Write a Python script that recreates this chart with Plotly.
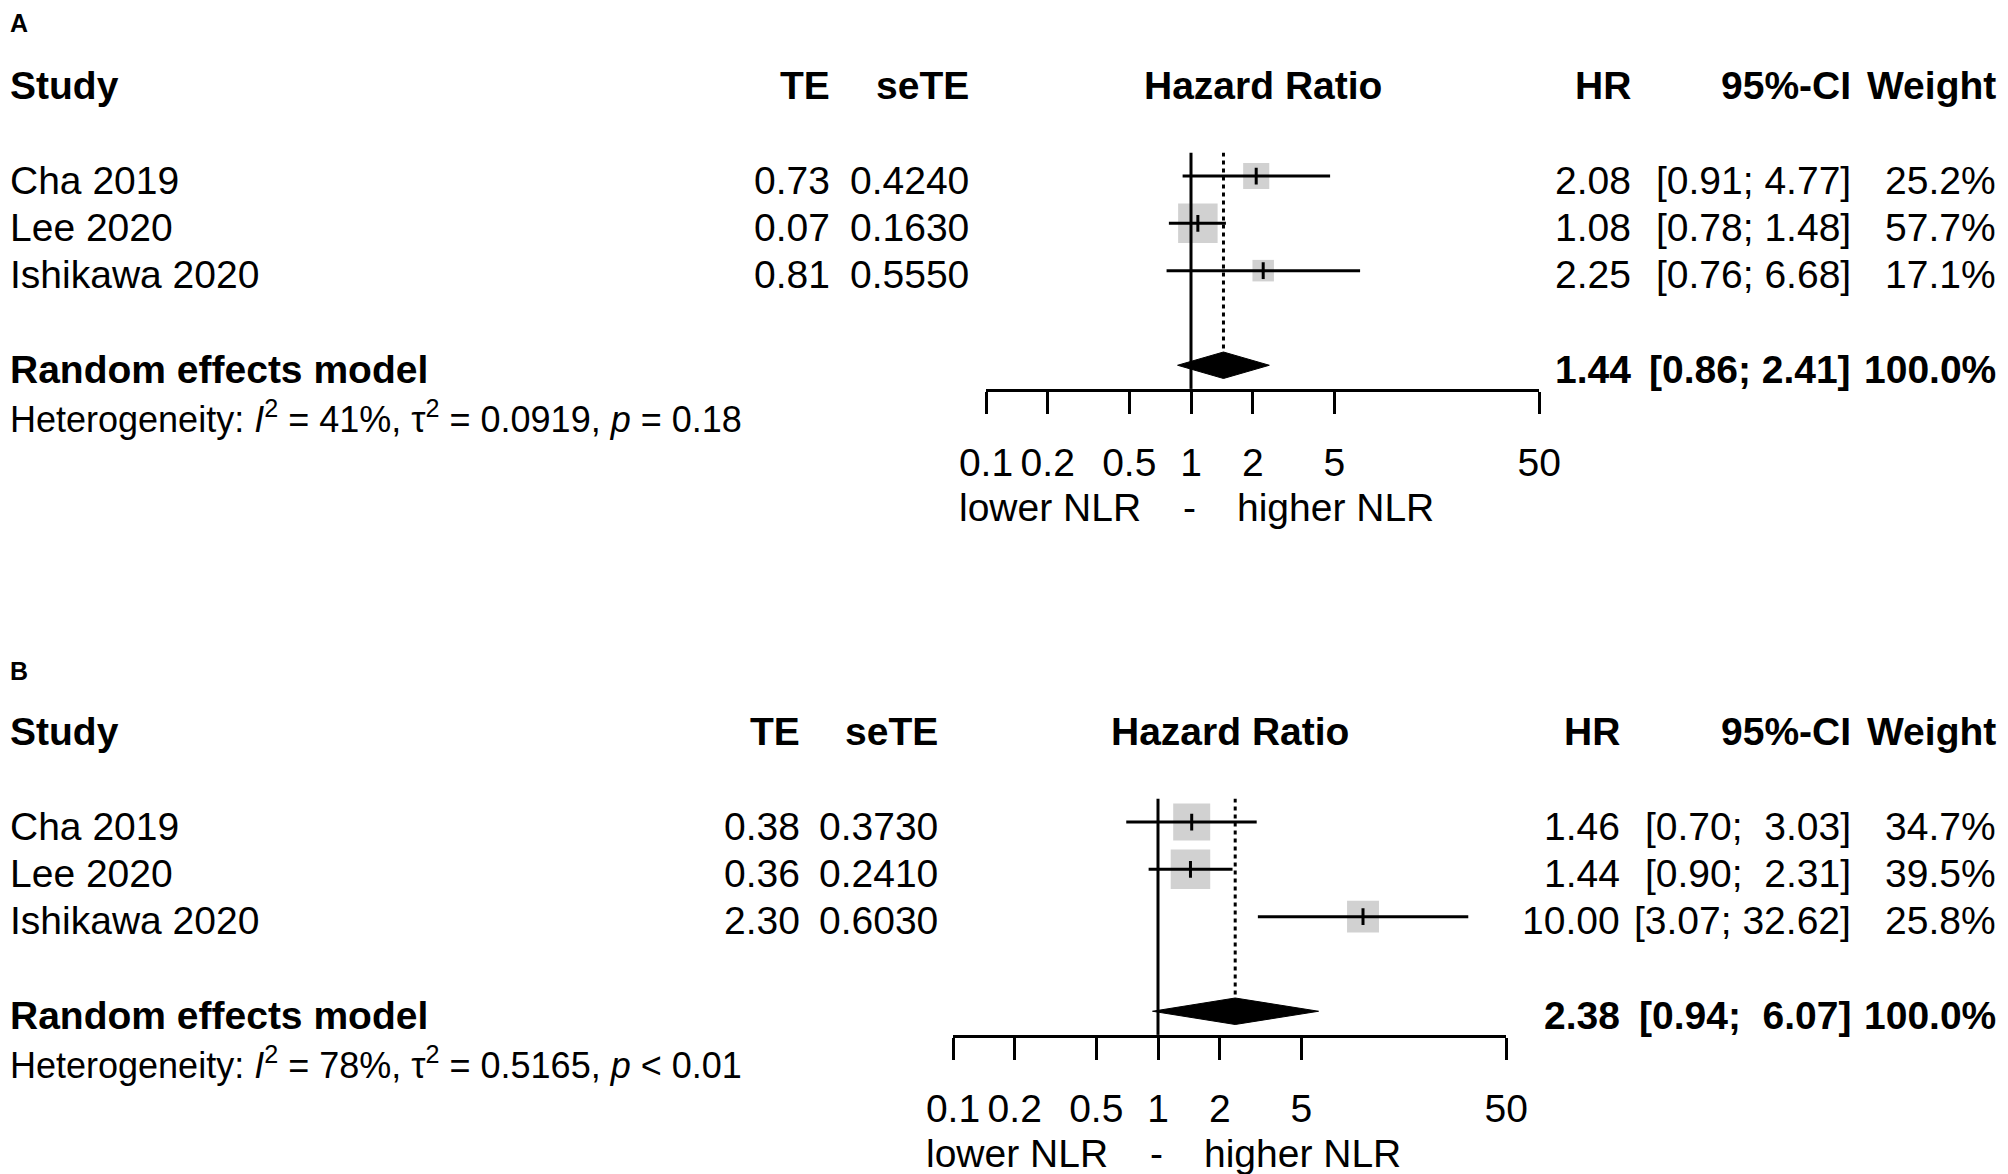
import numpy as np
import plotly.graph_objects as go

# ── Data ──────────────────────────────────────────────────────────────────
studies = ['Cha 2019', 'Lee 2020', 'Ishikawa 2020']

# Panel A
a_te = [0.73, 0.07, 0.81]
a_sete = [0.4240, 0.1630, 0.5550]
a_hr = [2.08, 1.08, 2.25]
a_lo = [0.91, 0.78, 0.76]
a_hi = [4.77, 1.48, 6.68]
a_weight = [25.2, 57.7, 17.1]
a_re = [1.44, 0.86, 2.41]
a_het = ['41%', '0.0919', '= 0.18']

# Panel B
b_te = [0.38, 0.36, 2.30]
b_sete = [0.3730, 0.2410, 0.6030]
b_hr = [1.46, 1.44, 10.00]
b_lo = [0.70, 0.90, 3.07]
b_hi = [3.03, 2.31, 32.62]
b_weight = [34.7, 39.5, 25.8]
b_re = [2.38, 0.94, 6.07]
b_het = ['78%', '0.5165', '< 0.01']

tick_vals = [0.1, 0.2, 0.5, 1, 2, 5, 50]
tick_text = ['0.1', '0.2', '0.5', '1', '2', '5', '50']
label_left, label_right = 'lower NLR', 'higher NLR'

# ── Geometry (pixels) ─────────────────────────────────────────────────────
W, H = 2008, 1174
FONT = 'Liberation Sans, Arial, sans-serif'
FS = 39
RH = 47.3          # row height
DX, DY = -8, -8    # page offset of the plot div
X_LO, X_HI = -1, np.log10(50)

panels = [
    dict(tag='A', tag_y=23, top=152.4, x0=986, x1=1539.3,
         te_x=832, sete_x=971, hr_x=1633,
         te=a_te, sete=a_sete, hr=a_hr, lo=a_lo, hi=a_hi, w=a_weight,
         re=a_re, het=a_het),
    dict(tag='B', tag_y=671, top=798.4, x0=953, x1=1506.3,
         te_x=802, sete_x=940, hr_x=1622,
         te=b_te, sete=b_sete, hr=b_hr, lo=b_lo, hi=b_hi, w=b_weight,
         re=b_re, het=b_het),
]
CI_X = 1853
W_X = 1998


def py(p, r):
    return p['top'] + (r - 0.5) * RH + DY


def px(p, v):
    # pixel of value v on the panel's log axis
    return p['x0'] + (p['x1'] - p['x0']) * (np.log10(v) - X_LO) / (X_HI - X_LO)


def ann(x, y, s, anchor, bold=False, size=FS):
    if bold:
        s = f'<b>{s}</b>'
    x = max(x + DX, 0) if anchor == 'left' else x + DX
    return dict(x=x / W, y=1 - y / H, xref='paper', yref='paper', text=s,
                showarrow=False, xanchor=anchor, yanchor='middle',
                font=dict(family=FONT, size=size, color='black'))


fig = go.Figure()
annotations = []
layout_axes = {}

for i, p in enumerate(panels):
    sfx = '' if i == 0 else str(i + 1)
    xa, ya = 'x' + sfx, 'y' + sfx
    rows = [1, 2, 3]
    est, lo_re, hi_re = p['re']

    # squares (area proportional to weight)
    wmax = max(p['w'])
    sizes = [39.5 * np.sqrt(w / wmax) for w in p['w']]
    fig.add_trace(go.Scatter(
        x=p['hr'], y=rows, mode='markers', xaxis=xa, yaxis=ya,
        marker=dict(symbol='square', size=sizes, color='#bebebe',
                    line=dict(width=0)),
        showlegend=False, hoverinfo='skip'))

    # confidence intervals
    cx, cy = [], []
    for r, lo, hi in zip(rows, p['lo'], p['hi']):
        cx += [lo, hi, None]
        cy += [r, r, None]
    fig.add_trace(go.Scatter(
        x=cx, y=cy, mode='lines', xaxis=xa, yaxis=ya,
        line=dict(color='black', width=3),
        showlegend=False, hoverinfo='skip'))

    # small tick at the estimate
    fig.add_trace(go.Scatter(
        x=p['hr'], y=rows, mode='markers', xaxis=xa, yaxis=ya,
        marker=dict(symbol='line-ns', size=12,
                    line=dict(color='black', width=3)),
        showlegend=False, hoverinfo='skip'))

    # line of no effect
    fig.add_trace(go.Scatter(
        x=[1, 1], y=[0.5, 5.5], mode='lines', xaxis=xa, yaxis=ya,
        line=dict(color='black', width=3),
        showlegend=False, hoverinfo='skip'))

    # pooled estimate, dotted
    dh = 0.28
    fig.add_trace(go.Scatter(
        x=[est, est], y=[0.5, 5 - dh], mode='lines', xaxis=xa, yaxis=ya,
        line=dict(color='black', width=3, dash='4px,4px'),
        showlegend=False, hoverinfo='skip'))

    # diamond
    fig.add_trace(go.Scatter(
        x=[lo_re, est, hi_re, est, lo_re], y=[5, 5 - dh, 5, 5 + dh, 5],
        mode='lines', fill='toself', fillcolor='black',
        line=dict(color='black', width=1), xaxis=xa, yaxis=ya,
        showlegend=False, hoverinfo='skip'))

    layout_axes['xaxis' + sfx] = dict(
        type='log', range=[X_LO, X_HI],
        domain=[(p['x0'] + DX) / W, (p['x1'] + DX) / W], anchor=ya,
        tickvals=tick_vals, ticktext=tick_text, tickangle=0,
        ticks='outside', ticklen=22, tickwidth=3, tickcolor='black',
        showline=True, linewidth=3, linecolor='black',
        showgrid=False, zeroline=False, fixedrange=True,
        ticklabelstandoff=15, automargin=False,
        tickfont=dict(family=FONT, size=FS, color='black'))
    layout_axes['yaxis' + sfx] = dict(
        range=[5.5, 0.5], anchor=xa,
        domain=[1 - py(p, 5.5) / H, 1 - py(p, 0.5) / H],
        visible=False, fixedrange=True, automargin=False)

    # ── text columns ──
    off = 4
    annotations.append(ann(0, p['tag_y'] + DY, p['tag'], 'left',
                           bold=True, size=25))
    hy = py(p, -1) + off
    annotations += [
        ann(3, hy, 'Study', 'left', bold=True),
        ann(p['te_x'], hy, 'TE', 'right', bold=True),
        ann(p['sete_x'], hy, 'seTE', 'right', bold=True),
        ann((p['x0'] + p['x1']) / 2, hy, 'Hazard Ratio', 'center', bold=True),
        ann(p['hr_x'], hy, 'HR', 'right', bold=True),
        ann(CI_X, hy, '95%-CI', 'right', bold=True),
        ann(W_X, hy, 'Weight', 'right', bold=True),
    ]

    lo_all = [f'{v:.2f}' for v in p['lo'] + [lo_re]]
    hi_all = [f'{v:.2f}' for v in p['hi'] + [hi_re]]
    lw = max(len(s) for s in lo_all)
    hw = max(len(s) for s in hi_all)
    ci_txt = ['[' + l.rjust(lw) + '; ' + h.rjust(hw) + ']'
              for l, h in zip(lo_all, hi_all)]

    for k, r in enumerate(rows):
        y = py(p, r) + off
        annotations += [
            ann(0, y, studies[k], 'left'),
            ann(p['te_x'], y, f"{p['te'][k]:.2f}", 'right'),
            ann(p['sete_x'], y, f"{p['sete'][k]:.4f}", 'right'),
            ann(p['hr_x'], y, f"{p['hr'][k]:.2f}", 'right'),
            ann(CI_X, y, ci_txt[k], 'right'),
            ann(W_X, y, f"{p['w'][k]:.1f}%", 'right'),
        ]

    y = py(p, 5) + off
    annotations += [
        ann(0, y, 'Random effects model', 'left', bold=True),
        ann(p['hr_x'], y, f'{est:.2f}', 'right', bold=True),
        ann(CI_X, y, ci_txt[3], 'right', bold=True),
        ann(W_X, y, '100.0%', 'right', bold=True),
    ]

    i2, tau2, pv = p['het']
    het = (f'Heterogeneity: <i>I</i><sup>2</sup> = {i2}, '
           f'τ<sup>2</sup> = {tau2}, <i>p</i> {pv}')
    annotations.append(ann(0, py(p, 6) + off, het, 'left', size=36))

    # direction labels under the axis
    ly = py(p, 7.92) + off
    x_null = px(p, 1)
    annotations += [
        ann(x_null - 48, ly, label_left, 'right'),
        ann(x_null - 2, ly, '-', 'center'),
        ann(x_null + 44, ly, label_right, 'left'),
    ]

fig.update_layout(
    width=W, height=H, autosize=False,
    margin=dict(l=0, r=0, t=0, b=0, pad=0, autoexpand=False),
    paper_bgcolor='white', plot_bgcolor='white',
    annotations=annotations,
    **layout_axes,
)

fig.write_html('out.html', config={'responsive': False})
